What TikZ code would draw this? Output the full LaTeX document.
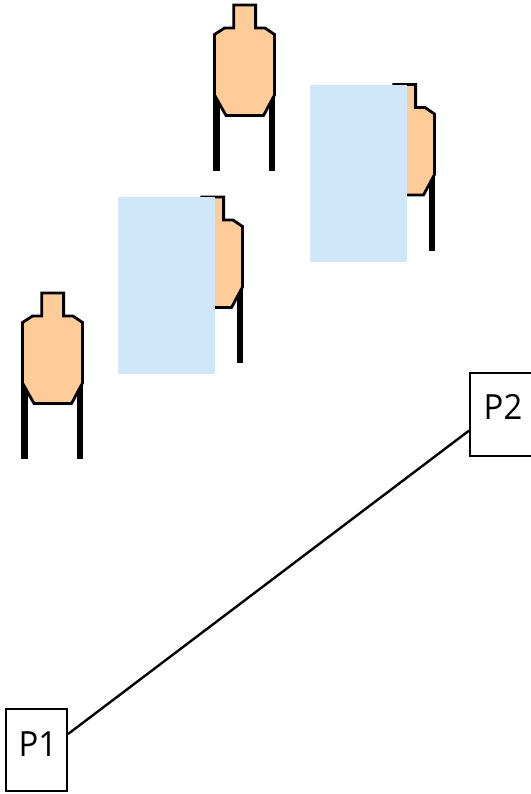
\documentclass[tikz,border=0pt]{standalone}
\usepackage{fontspec}
\setmainfont{Open Sans}
\usetikzlibrary{calc}
\definecolor{bodyfill}{HTML}{FFCC99}
\definecolor{coverfill}{HTML}{D0E6FA}
\tikzset{
  x=1pt, y=-1pt,
  postline/.style={line width=6.6pt, black},
  outline/.style={line width=2.8pt, draw=black, fill=bodyfill, line join=miter},
  cover/.style={fill=coverfill, draw=none},
  posbox/.style={draw=black, line width=2pt, fill=white, inner sep=0pt},
  postext/.style={inner sep=0pt, font=\fontsize{31}{31}\selectfont},
  link/.style={draw=black, line width=2.4pt},
  pics/steeltarget/.style={code={
    \draw[postline] (216.5,90) -- (216.5,171);
    \draw[postline] (272,90) -- (272,171);
    \draw[outline] (233.8,5) -- (255.6,5) -- (255.6,28) -- (265,28) -- (274.5,34.5)
      -- (274.5,95) -- (263.5,115.5) -- (226,115.5) -- (214.5,95) -- (214.5,34.5)
      -- (224.5,28) -- (233.8,28) -- cycle;
  }}
}
\begin{document}
\begin{tikzpicture}
  \useasboundingbox (0,0) rectangle (530,794);
  % four targets, two of them partly hidden by no-shoot panels
  \pic at (0,0) {steeltarget};
  \pic at (160,79.5) {steeltarget};
  \pic at (-32,192) {steeltarget};
  \pic at (-192,288) {steeltarget};
  \fill[cover] (310,85) rectangle (407,262);
  \fill[cover] (118,197) rectangle (215,374);
  % shooting positions and the path between them
  \node[posbox, minimum width=61pt, minimum height=82pt] (p1) at (36.5,750) {};
  \node[posbox, minimum width=65pt, minimum height=83pt] (p2) at (502.5,414.5) {};
  \node[postext] (p1label) at (38,744) {\scalebox{1.06}[1.12]{P1}};
  \node[postext] (p2label) at (503,407) {\scalebox{1.06}[1.12]{P2}};
  \draw[link] ($(p1.north east)!0.31!(p1.south east)$) -- ($(p2.north west)!0.69!(p2.south west)$);
\end{tikzpicture}
\end{document}
